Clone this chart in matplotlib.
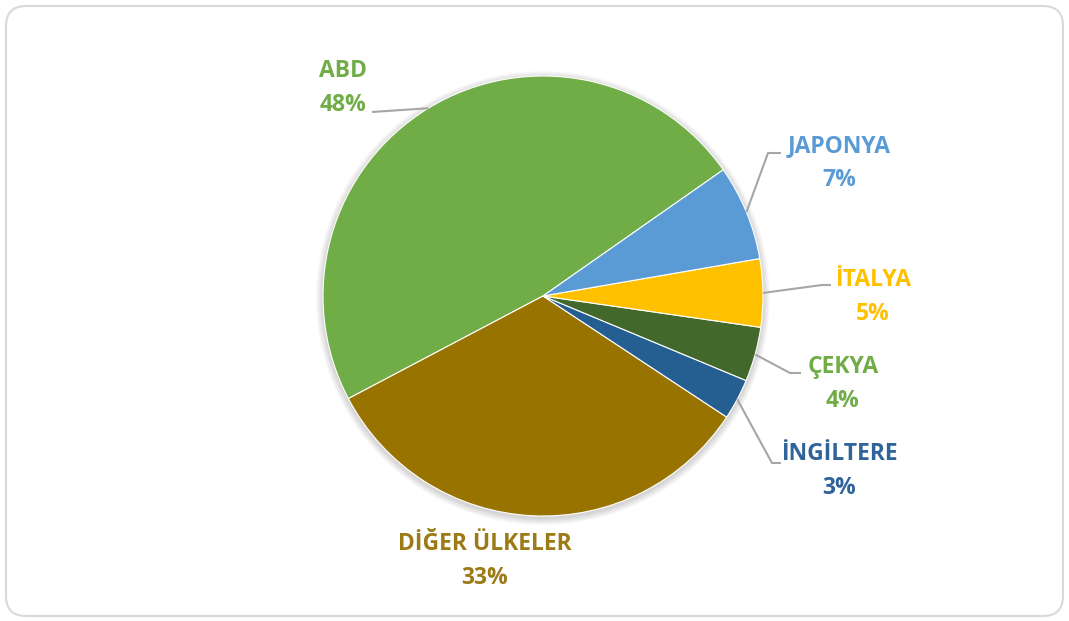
import numpy as np
import matplotlib.pyplot as plt
from matplotlib.patches import FancyBboxPatch

labels = ['ABD', 'DİĞER ÜLKELER', 'İNGİLTERE', 'ÇEKYA', 'İTALYA', 'JAPONYA']
shares = [48, 33, 3, 4, 5, 7]
colors = ['#70AD47', '#997300', '#255E91', '#43682B', '#FFC000', '#5B9BD5']
label_colors = ['#70AD47', '#9C7A16', '#2F639A', '#70AD47', '#FFC000', '#5B9BD5']

W, H = 1069, 621
fig = plt.figure(figsize=(W / 100, H / 100), dpi=100)
ax = fig.add_axes([0, 0, 1, 1])

cx, cy, r = 543, H - 296, 220

# soft shadow behind the pie
for k in range(7):
    ax.add_patch(plt.Circle((cx, cy - 2), r + 1 + k, color='#000000', alpha=0.022, zorder=1, lw=0))

wedges, _ = ax.pie(shares, colors=colors, startangle=35, counterclock=True,
                   center=(cx, cy), radius=r, frame=True,
                   wedgeprops=dict(linewidth=0.8, edgecolor='white'))
for w in wedges:
    w.set_zorder(2)
ax.set_xlim(0, W)
ax.set_ylim(0, H)
ax.set_aspect('equal')
ax.axis('off')

# chart frame
ax.add_patch(FancyBboxPatch((6, 5), W - 12, H - 11, boxstyle='round,pad=0,rounding_size=20',
                            facecolor='white', edgecolor='#D9D9D9', linewidth=1.5, zorder=0))

# label layout (pixel positions in the image, y from the top)
text_pos = {
    'ABD': (343, 88),
    'DİĞER ÜLKELER': (485, 561),
    'İNGİLTERE': (839, 471),
    'ÇEKYA': (843, 384),
    'İTALYA': (873, 297),
    'JAPONYA': (839, 163),
}
leader = {
    'ABD': [(372, 112)],
    'JAPONYA': [(768, 153), (781, 153)],
    'İTALYA': [(822, 285), (831, 285)],
    'ÇEKYA': [(790, 373), (801, 373)],
    'İNGİLTERE': [(772, 463), (781, 463)],
}

for w, lab, s, c in zip(wedges, labels, shares, label_colors):
    tx, ty = text_pos[lab]
    ax.text(tx, H - ty, f'{lab}\n{s}%', color=c, fontsize=16.5, fontweight='bold',
            family=['Open Sans', 'DejaVu Sans'], ha='center', va='center',
            linespacing=1.6, zorder=4)
    if lab in leader:
        mid = np.deg2rad((w.theta1 + w.theta2) / 2)
        xs = [cx + r * np.cos(mid)] + [p[0] for p in leader[lab]]
        ys = [cy + r * np.sin(mid)] + [H - p[1] for p in leader[lab]]
        ax.plot(xs, ys, color='#A6A6A6', lw=1.5, zorder=3, solid_capstyle='butt')

fig.savefig('out.png', dpi=100)
